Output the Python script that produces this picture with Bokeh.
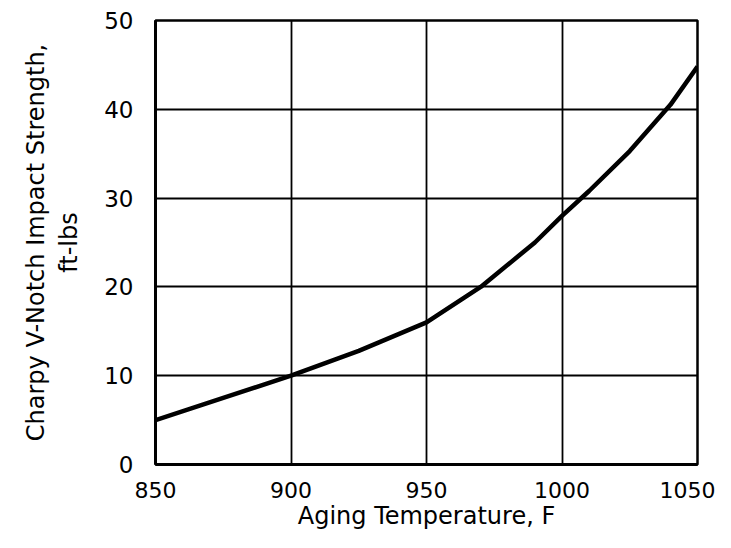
from bokeh.plotting import figure
from bokeh.models import FixedTicker, Range1d
from bokeh.embed import file_html
from bokeh.resources import INLINE

# Data
temps = [850, 875, 900, 925, 950, 970, 990, 1000, 1010, 1025, 1040, 1050]
strength = [5.0, 7.5, 10.0, 12.8, 16.0, 20.0, 25.0, 28.0, 30.8, 35.3, 40.5, 44.8]
x_ticks = [850, 900, 950, 1000, 1050]
y_ticks = [0, 10, 20, 30, 40, 50]

FONT = "DejaVu Sans"

p = figure(width=715, height=532, output_backend="svg", toolbar_location=None,
           x_range=Range1d(850, 1050), y_range=Range1d(0, 50),
           min_border_left=155, min_border_right=18, min_border_top=20, min_border_bottom=68)

p.line(temps, strength, line_color="black", line_width=4.5, line_join="round")

for ax in (p.xaxis, p.yaxis):
    ax.major_tick_line_color = None
    ax.minor_tick_line_color = None
    ax.axis_line_color = "black"
    ax.axis_line_width = 3
    ax.major_label_text_font = FONT
    ax.major_label_text_font_size = "23px"
    ax.major_label_text_color = "black"
    ax.axis_label_text_font = FONT
    ax.axis_label_text_font_style = "normal"
    ax.axis_label_text_color = "black"

p.xaxis.major_label_text_font_size = "22px"
p.xaxis.axis_label_text_font_size = "24px"
p.yaxis.axis_label_text_font_size = "24px"
p.xaxis.ticker = FixedTicker(ticks=x_ticks)
p.yaxis.ticker = FixedTicker(ticks=y_ticks)
p.xaxis.major_label_standoff = 11
p.yaxis.major_label_standoff = 16
p.xaxis.axis_label = "Aging Temperature, F"
p.yaxis.axis_label = "Charpy V-Notch Impact Strength,\nft-lbs"
p.xaxis.axis_label_standoff = 1
p.yaxis.axis_label_standoff = 18

p.xgrid.ticker = FixedTicker(ticks=x_ticks)
p.ygrid.ticker = FixedTicker(ticks=y_ticks)
for g in (p.xgrid, p.ygrid):
    g.grid_line_color = "black"
    g.grid_line_width = 1.8
    g.grid_line_alpha = 1.0

p.outline_line_color = "black"
p.outline_line_width = 2.5
p.background_fill_color = "white"
p.border_fill_color = "white"

open("out.html", "w").write(file_html(p, INLINE))
